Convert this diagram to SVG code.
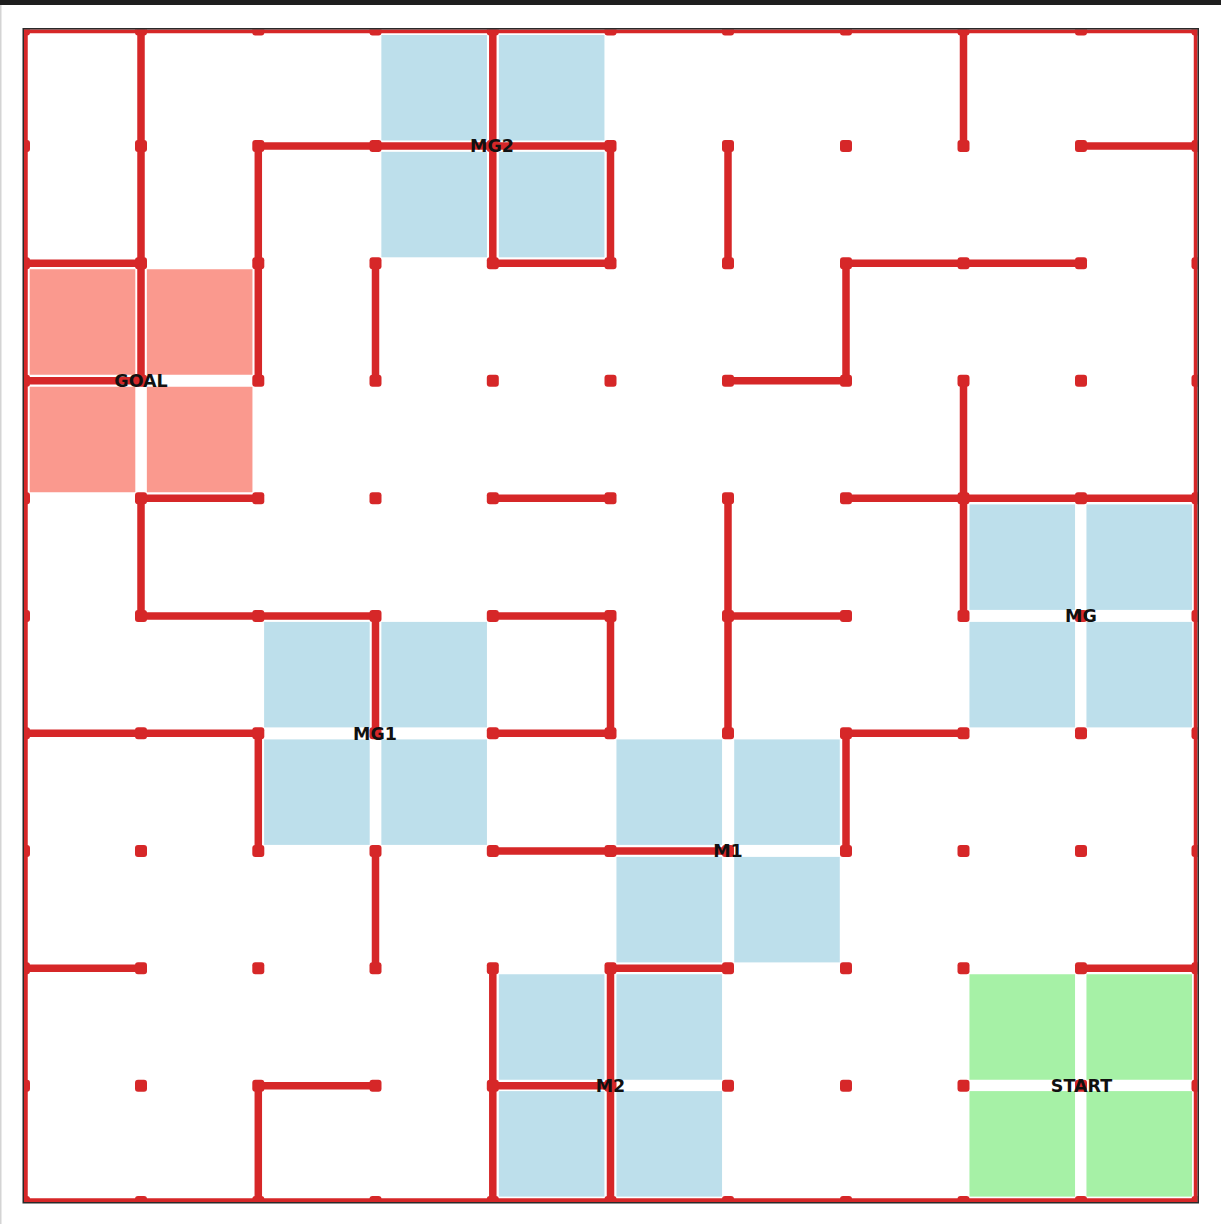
<svg xmlns="http://www.w3.org/2000/svg" width="1221" height="1224" viewBox="0 0 1221 1224">
<style>
.wall{fill:none;stroke:#d62728;stroke-width:7.5;stroke-linecap:butt}
.dot{fill:#d62728}
.goal{fill:#fa998e}
.mid{fill:#bddfeb}
.start{fill:#a6f1a6}
.lbl{font-family:"DejaVu Sans",Verdana,sans-serif;font-weight:bold;font-size:17.5px;fill:#111;text-anchor:middle}
</style>
<defs>
<clipPath id="plot"><rect x="24" y="29.5" width="1173.5" height="1172.5"/></clipPath>
<rect id="d" class="dot" x="-6" y="-6" width="12" height="12" rx="3"/>
</defs>
<rect x="0" y="0" width="1221" height="1224" fill="#ffffff"/>
<rect x="0" y="0" width="1221" height="5" fill="#1e1e1e"/>
<rect x="0" y="5" width="1.5" height="1219" fill="#d4d4d4"/>

<g id="regions">
<g id="goal-cells">
<rect class="goal" x="29.7" y="269.25" width="105.6" height="105.5"/>
<rect class="goal" x="146.85" y="269.25" width="105.6" height="105.5"/>
<rect class="goal" x="29.7" y="386.75" width="105.6" height="105.5"/>
<rect class="goal" x="146.85" y="386.75" width="105.6" height="105.5"/>
</g>
<g id="mg2-cells">
<rect class="mid" x="381.35" y="35" width="105.6" height="105.5"/>
<rect class="mid" x="498.85" y="35" width="105.6" height="105.5"/>
<rect class="mid" x="381.35" y="151.8" width="105.6" height="105.5"/>
<rect class="mid" x="498.85" y="151.8" width="105.6" height="105.5"/>
</g>
<g id="mg-cells">
<rect class="mid" x="969.45" y="504.4" width="105.6" height="105.5"/>
<rect class="mid" x="1086.45" y="504.4" width="105.6" height="105.5"/>
<rect class="mid" x="969.45" y="621.9" width="105.6" height="105.5"/>
<rect class="mid" x="1086.45" y="621.9" width="105.6" height="105.5"/>
</g>
<g id="mg1-cells">
<rect class="mid" x="264.1" y="621.9" width="105.6" height="105.5"/>
<rect class="mid" x="381.35" y="621.9" width="105.6" height="105.5"/>
<rect class="mid" x="264.1" y="739.4" width="105.6" height="105.5"/>
<rect class="mid" x="381.35" y="739.4" width="105.6" height="105.5"/>
</g>
<g id="m1-cells">
<rect class="mid" x="616.45" y="739.4" width="105.6" height="105.5"/>
<rect class="mid" x="734.2" y="739.4" width="105.6" height="105.5"/>
<rect class="mid" x="616.45" y="856.9" width="105.6" height="105.5"/>
<rect class="mid" x="734.2" y="856.9" width="105.6" height="105.5"/>
</g>
<g id="m2-cells">
<rect class="mid" x="498.85" y="974.25" width="105.6" height="105.5"/>
<rect class="mid" x="616.45" y="974.25" width="105.6" height="105.5"/>
<rect class="mid" x="498.85" y="1091.1" width="105.6" height="105.5"/>
<rect class="mid" x="616.45" y="1091.1" width="105.6" height="105.5"/>
</g>
<g id="start-cells">
<rect class="start" x="969.45" y="974.25" width="105.6" height="105.5"/>
<rect class="start" x="1086.45" y="974.25" width="105.6" height="105.5"/>
<rect class="start" x="969.45" y="1091.1" width="105.6" height="105.5"/>
<rect class="start" x="1086.45" y="1091.1" width="105.6" height="105.5"/>
</g>
</g>

<g id="walls" clip-path="url(#plot)">
<rect class="wall" x="24" y="29.5" width="1173.5" height="1172.5"/>
<path class="wall" d="M141 29.5V380.7 M24 263.3H141 M24 380.7H141 M258.3 146H610.5 M258.3 146V380.7 M375.5 263.3V380.7 M492.8 29.5V263.3 M610.5 146V263.3 M492.8 263.3H610.5 M728 146V263.3 M728 380.7H846 M846 263.3V380.7 M846 263.3H1081 M963.5 29.5V146 M1081 146H1197.5 M963.5 380.7V616 M846 498.3H1197.5"/>
<path class="wall" d="M141 498.3H258.3 M141 498.3V616 M141 616H375.5 M375.5 616V733.3 M24 733.3H258.3 M258.3 733.3V851 M492.8 498.3H610.5 M492.8 616H610.5 M610.5 616V733.3 M492.8 733.3H610.5 M728 498.3V733.3 M728 616H846 M846 733.3H963.5 M846 733.3V851"/>
<path class="wall" d="M492.8 851H728 M375.5 851V968.3 M24 968.3H141 M258.3 1085.7H375.5 M258.3 1085.7V1202 M492.8 968.3V1202 M492.8 1085.7H610.5 M610.5 968.3V1202 M610.5 968.3H728 M1081 968.3H1197.5"/>
</g>

<g id="dots" clip-path="url(#plot)">
<g transform="translate(0,29.5)"><use href="#d" x="24"/><use href="#d" x="141"/><use href="#d" x="258.3"/><use href="#d" x="375.5"/><use href="#d" x="492.8"/><use href="#d" x="610.5"/><use href="#d" x="728"/><use href="#d" x="846"/><use href="#d" x="963.5"/><use href="#d" x="1081"/><use href="#d" x="1197.5"/></g>
<g transform="translate(0,146)"><use href="#d" x="24"/><use href="#d" x="141"/><use href="#d" x="258.3"/><use href="#d" x="375.5"/><use href="#d" x="492.8"/><use href="#d" x="610.5"/><use href="#d" x="728"/><use href="#d" x="846"/><use href="#d" x="963.5"/><use href="#d" x="1081"/><use href="#d" x="1197.5"/></g>
<g transform="translate(0,263.3)"><use href="#d" x="24"/><use href="#d" x="141"/><use href="#d" x="258.3"/><use href="#d" x="375.5"/><use href="#d" x="492.8"/><use href="#d" x="610.5"/><use href="#d" x="728"/><use href="#d" x="846"/><use href="#d" x="963.5"/><use href="#d" x="1081"/><use href="#d" x="1197.5"/></g>
<g transform="translate(0,380.7)"><use href="#d" x="24"/><use href="#d" x="141"/><use href="#d" x="258.3"/><use href="#d" x="375.5"/><use href="#d" x="492.8"/><use href="#d" x="610.5"/><use href="#d" x="728"/><use href="#d" x="846"/><use href="#d" x="963.5"/><use href="#d" x="1081"/><use href="#d" x="1197.5"/></g>
<g transform="translate(0,498.3)"><use href="#d" x="24"/><use href="#d" x="141"/><use href="#d" x="258.3"/><use href="#d" x="375.5"/><use href="#d" x="492.8"/><use href="#d" x="610.5"/><use href="#d" x="728"/><use href="#d" x="846"/><use href="#d" x="963.5"/><use href="#d" x="1081"/><use href="#d" x="1197.5"/></g>
<g transform="translate(0,616)"><use href="#d" x="24"/><use href="#d" x="141"/><use href="#d" x="258.3"/><use href="#d" x="375.5"/><use href="#d" x="492.8"/><use href="#d" x="610.5"/><use href="#d" x="728"/><use href="#d" x="846"/><use href="#d" x="963.5"/><use href="#d" x="1081"/><use href="#d" x="1197.5"/></g>
<g transform="translate(0,733.3)"><use href="#d" x="24"/><use href="#d" x="141"/><use href="#d" x="258.3"/><use href="#d" x="375.5"/><use href="#d" x="492.8"/><use href="#d" x="610.5"/><use href="#d" x="728"/><use href="#d" x="846"/><use href="#d" x="963.5"/><use href="#d" x="1081"/><use href="#d" x="1197.5"/></g>
<g transform="translate(0,851)"><use href="#d" x="24"/><use href="#d" x="141"/><use href="#d" x="258.3"/><use href="#d" x="375.5"/><use href="#d" x="492.8"/><use href="#d" x="610.5"/><use href="#d" x="728"/><use href="#d" x="846"/><use href="#d" x="963.5"/><use href="#d" x="1081"/><use href="#d" x="1197.5"/></g>
<g transform="translate(0,968.3)"><use href="#d" x="24"/><use href="#d" x="141"/><use href="#d" x="258.3"/><use href="#d" x="375.5"/><use href="#d" x="492.8"/><use href="#d" x="610.5"/><use href="#d" x="728"/><use href="#d" x="846"/><use href="#d" x="963.5"/><use href="#d" x="1081"/><use href="#d" x="1197.5"/></g>
<g transform="translate(0,1085.7)"><use href="#d" x="24"/><use href="#d" x="141"/><use href="#d" x="258.3"/><use href="#d" x="375.5"/><use href="#d" x="492.8"/><use href="#d" x="610.5"/><use href="#d" x="728"/><use href="#d" x="846"/><use href="#d" x="963.5"/><use href="#d" x="1081"/><use href="#d" x="1197.5"/></g>
<g transform="translate(0,1202)"><use href="#d" x="24"/><use href="#d" x="141"/><use href="#d" x="258.3"/><use href="#d" x="375.5"/><use href="#d" x="492.8"/><use href="#d" x="610.5"/><use href="#d" x="728"/><use href="#d" x="846"/><use href="#d" x="963.5"/><use href="#d" x="1081"/><use href="#d" x="1197.5"/></g>
</g>

<rect id="frame" x="23.25" y="28.75" width="1175" height="1174" fill="none" stroke="#2a2a2a" stroke-width="1.5"/>

<g id="labels">
<g id="goal"><text class="lbl" x="141" y="387">GOAL</text></g>
<g id="mg2"><text class="lbl" x="492" y="152.4">MG2</text></g>
<g id="mg"><text class="lbl" x="1081" y="622.4">MG</text></g>
<g id="mg1"><text class="lbl" x="375" y="739.7">MG1</text></g>
<g id="m1"><text class="lbl" x="728" y="857.4">M1</text></g>
<g id="m2"><text class="lbl" x="610.5" y="1092.1">M2</text></g>
<g id="start"><text class="lbl" x="1081.5" y="1092.1">START</text></g>
</g>
</svg>
